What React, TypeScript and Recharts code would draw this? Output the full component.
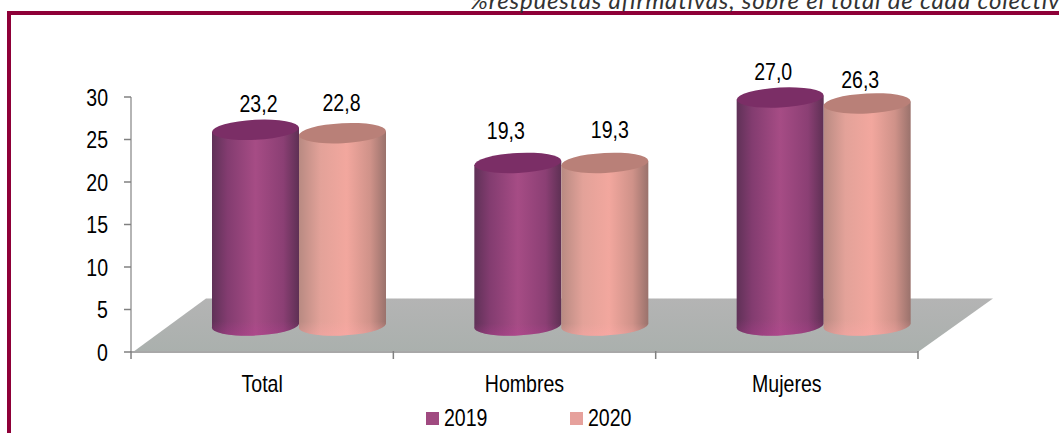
import { Bar, BarChart, LabelList, Legend, ReferenceArea, XAxis, YAxis } from "recharts";

const categories = ["Total", "Hombres", "Mujeres"];
const values2019 = [23.2, 19.3, 27.0];
const values2020 = [22.8, 19.3, 26.3];
const yTicks = [0, 5, 10, 15, 20, 25, 30];

const rows = categories.map((name, i) => ({ name, y2019: values2019[i], y2020: values2020[i] }));

const FONT = '"Liberation Sans", Arial, sans-serif';
const NARROW = 0.85;
// the bars of the 3D original sit back from the axes, on the grey floor
const DEPTH_X = 37;
const DEPTH_Y = -25;
const RY = 10;
const BAND = 262.3;

// hand nudges for the value labels, [dx, dy] per category
const nudge2019 = [[3, 2], [-12, -4], [-7, 2]];
const nudge2020 = [[-1, -3], [5, -5], [-7, 4]];

function NarrowText({ x, y, anchor = "middle", children }: any) {
  return (
    <text
      transform={`translate(${x} ${y}) scale(${NARROW} 1)`}
      textAnchor={anchor}
      dominantBaseline="central"
      fontFamily={FONT}
      fontSize={23}
      fill="#000"
    >
      {children}
    </text>
  );
}

function cylinder(id: string, top: string) {
  return (props: any) => {
    const x = props.x + DEPTH_X;
    const y = props.y + DEPTH_Y;
    const w = props.width;
    const h = props.height;
    const rx = w / 2;
    const body = `M${x},${y + 2} L${x},${y + h} A${rx},${RY} -3 0 0 ${x + w},${y + h - 3} L${x + w},${y - 2} Z`;
    return (
      <g>
        <path d={body} fill={`url(#${id})`} />
        <path d={body} fill={`url(#${id}Foot)`} />
        <ellipse cx={x + rx} cy={y} rx={rx} ry={RY} fill={top} transform={`rotate(-3 ${x + rx} ${y})`} />
      </g>
    );
  };
}

function valueLabel(nudges: number[][]) {
  return (props: any) => {
    const { x, y, width, value, index } = props;
    const [dx, dy] = nudges[index];
    return (
      <NarrowText x={x + width / 2 + DEPTH_X + dx} y={y + DEPTH_Y - 27 + dy}>
        {Number(value).toFixed(1).replace(".", ",")}
      </NarrowText>
    );
  };
}

function Floor(props: any) {
  const { x, y, width, height } = props;
  const bottom = y + height;
  const shift = 75;
  const pts = `${x + 2},${bottom} ${x + shift},${y} ${x + width + shift},${y} ${x + width},${bottom}`;
  return <polygon points={pts} fill="url(#floorFill)" />;
}

function CategoryTick(props: any) {
  const { x, y, payload, index } = props;
  const left = x - BAND / 2;
  const right = x + BAND / 2;
  return (
    <g>
      <line x1={left} x2={left} y1={y - 9} y2={y - 1} stroke="#808080" strokeWidth={1.5} />
      {index === categories.length - 1 && (
        <line x1={right} x2={right} y1={y - 9} y2={y - 1} stroke="#808080" strokeWidth={1.5} />
      )}
      <NarrowText x={x} y={y + 24}>
        {payload.value}
      </NarrowText>
    </g>
  );
}

function ValueTick(props: any) {
  const { x, y, payload } = props;
  return (
    <NarrowText x={x - 2} y={y + 1} anchor="end">
      {payload.value}
    </NarrowText>
  );
}

function LegendRow({ payload }: any) {
  return (
    <div style={{ display: "flex", paddingLeft: 426, fontFamily: FONT, fontSize: 23, lineHeight: "26px", color: "#000" }}>
      {(payload || []).map((item: any) => (
        <div key={item.value} style={{ display: "flex", alignItems: "center", width: 144 }}>
          <span style={{ width: 13, height: 13, background: item.color, marginRight: 5 }} />
          <span style={{ display: "inline-block", transform: `scaleX(${NARROW})`, transformOrigin: "left center" }}>{item.value}</span>
        </div>
      ))}
    </div>
  );
}

export default function App() {
  return (
    <div style={{ position: "absolute", left: 0, top: 0, width: 1059, height: 433, overflow: "hidden", background: "#fff" }}>
      <div
        style={{
          position: "absolute",
          left: 7,
          top: 11,
          width: 1200,
          height: 600,
          border: "4px solid #8e0038",
        }}
      />
      <div
        style={{
          position: "absolute",
          left: 470,
          top: -12,
          whiteSpace: "nowrap",
          fontFamily: "Lato, sans-serif",
          fontStyle: "italic",
          fontSize: 24,
          letterSpacing: 0.8,
          lineHeight: "24px",
          color: "#333",
        }}
      >
        %respuestas afirmativas, sobre el total de cada colectivo
      </div>
      <BarChart
        width={1059}
        height={433}
        data={rows}
        margin={{ top: 97, right: 141, bottom: 0, left: 0 }}
        barSize={87}
        barGap={0}
        style={{ position: "absolute", left: 0, top: 0 }}
      >
        <defs>
          <linearGradient id="bar2019" x1="0" x2="1" y1="0" y2="0">
            <stop offset="0" stopColor="#5f3157" />
            <stop offset="0.18" stopColor="#833c70" />
            <stop offset="0.5" stopColor="#a64c85" />
            <stop offset="0.82" stopColor="#8b3f74" />
            <stop offset="1" stopColor="#5e3054" />
          </linearGradient>
          <linearGradient id="bar2020" x1="0" x2="1" y1="0" y2="0">
            <stop offset="0" stopColor="#b88a82" />
            <stop offset="0.25" stopColor="#e3a299" />
            <stop offset="0.55" stopColor="#f2a79e" />
            <stop offset="0.82" stopColor="#cf9289" />
            <stop offset="1" stopColor="#9a726c" />
          </linearGradient>
          <linearGradient id="bar2019Foot" x1="0" x2="0" y1="0" y2="1">
            <stop offset="0.93" stopColor="#c0409a" stopOpacity={0} />
            <stop offset="1" stopColor="#c0409a" stopOpacity={0.3} />
          </linearGradient>
          <linearGradient id="bar2020Foot" x1="0" x2="0" y1="0" y2="1">
            <stop offset="0.93" stopColor="#ffa8a8" stopOpacity={0} />
            <stop offset="1" stopColor="#ffa8a8" stopOpacity={0.4} />
          </linearGradient>
          <linearGradient id="floorFill" x1="0" x2="0" y1="0" y2="1">
            <stop offset="0" stopColor="#b4b4b4" />
            <stop offset="1" stopColor="#aab0ad" />
          </linearGradient>
        </defs>
        <ReferenceArea y1={0} y2={6.3} shape={Floor} ifOverflow="visible" />
        <XAxis
          dataKey="name"
          axisLine={{ stroke: "#a8a8a8", strokeWidth: 2 }}
          tickLine={false}
          tick={CategoryTick}
          interval={0}
          height={81}
        />
        <YAxis
          domain={[0, 30]}
          ticks={yTicks}
          width={131}
          interval={0}
          axisLine={{ stroke: "#b5b5b5", strokeWidth: 2 }}
          tickLine={{ stroke: "#808080", strokeWidth: 1.5 }}
          tickSize={7}
          tickMargin={14}
          tick={ValueTick}
        />
        <Legend
          content={LegendRow}
          layout="horizontal"
          verticalAlign="middle"
          wrapperStyle={{ position: "absolute", left: 0, top: 405, width: 1059, height: 26 }}
        />
        <Bar dataKey="y2019" name="2019" fill="#a04a80" shape={cylinder("bar2019", "#7b2e66")} isAnimationActive={false}>
          <LabelList dataKey="y2019" content={valueLabel(nudge2019)} />
        </Bar>
        <Bar dataKey="y2020" name="2020" fill="#e6a19c" shape={cylinder("bar2020", "#b98078")} isAnimationActive={false}>
          <LabelList dataKey="y2020" content={valueLabel(nudge2020)} />
        </Bar>
      </BarChart>
    </div>
  );
}
